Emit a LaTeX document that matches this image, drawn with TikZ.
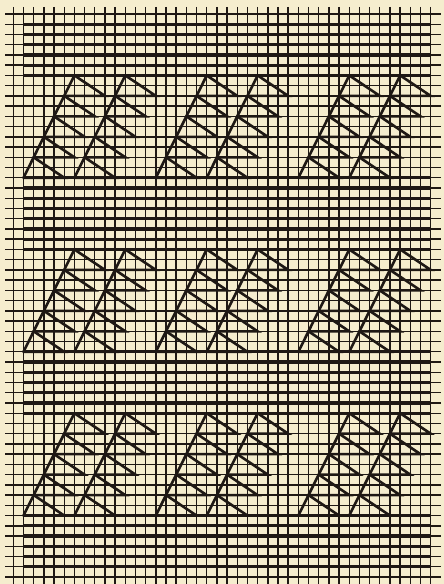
\documentclass[tikz,border=0pt]{standalone}
\definecolor{paper}{RGB}{245,237,206}
\definecolor{ink}{RGB}{30,24,20}
\begin{document}
\begin{tikzpicture}[x=1pt,y=-1pt,
  gridline/.style={ink, line width=1.4pt},
  bandline/.style={ink, line width=3.2pt},
  motif/.style={ink, line width=2.6pt, line join=miter, line cap=round}]
\fill[paper] (0,0) rectangle (444,584);
\useasboundingbox (0,0) rectangle (444,584);
\begin{scope}[shift={(13.3pt,-14pt)}, x=10.18pt, y=-10.236pt]
  % grid
  \foreach \i in {0,...,41} \draw[gridline] (\i,-0.7) -- (\i,55.8);
  \foreach \j in {0,...,55} \draw[gridline] (-0.8,\j) -- (42.0,\j);
  % bands of thick lines
  \foreach \j in {1,...,6,16,17,...,23,33,34,...,39,49,50,...,54}
    \draw[bandline] (1,\j) -- (41,\j);
  % motifs
  \foreach \jb in {16,33,49}
    \foreach \c in {1,6,14,19,28,33} {
      \draw[motif] (\c,\jb) -- (\c+5,\jb-10);
      \foreach \k in {0,...,4}
        \draw[motif] (\c+5-\k,\jb-10+2*\k) -- (\c+8-\k,\jb-8+2*\k) -- (\c+4-\k,\jb-8+2*\k);
    }
\end{scope}
\end{tikzpicture}
\end{document}
